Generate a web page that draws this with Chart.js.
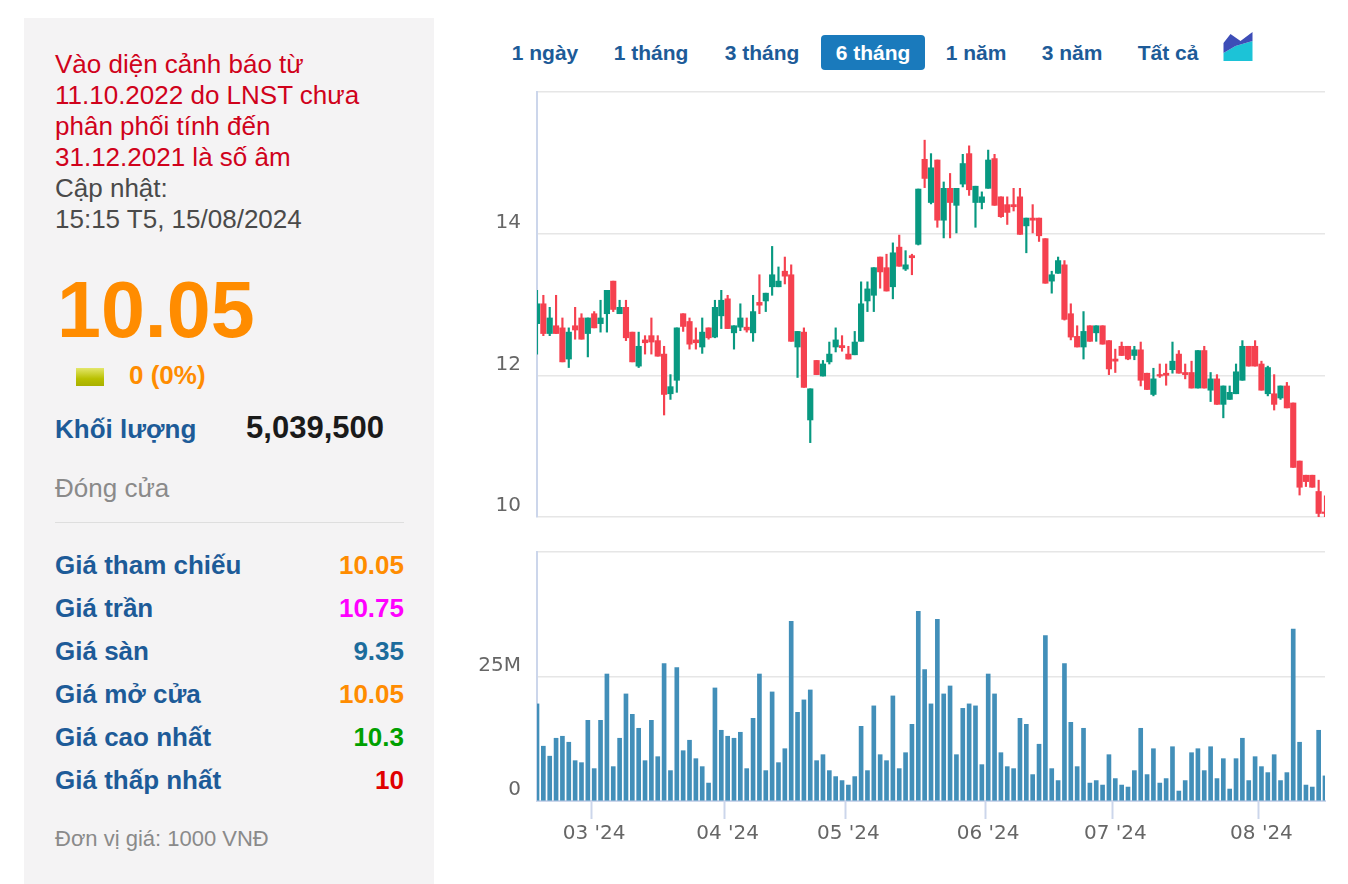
<!DOCTYPE html>
<html lang="vi">
<head>
<meta charset="utf-8">
<script src="https://cdn.jsdelivr.net/npm/chart.js"></script>
<style>
html,body{margin:0;padding:0;background:#fff;width:1348px;height:884px;overflow:hidden;font-family:"Liberation Sans",Arial,Helvetica,sans-serif;}
.a{position:absolute;white-space:nowrap;}
#panel{position:absolute;left:24px;top:18px;width:410px;height:866px;background:#f4f3f4;}
.warn{left:55px;top:49px;font-size:26px;line-height:31px;color:#d0021b;}
.warn .g{color:#4a4a4a;}
.big{left:57px;top:270px;font-size:79px;line-height:79px;font-weight:bold;color:#ff8c00;}
.chg{left:129px;top:362px;font-size:26px;line-height:26px;font-weight:bold;color:#ff8c00;}
.lbl{font-size:26px;line-height:26px;font-weight:bold;color:#1d5b98;left:55px;}
.val{font-size:26px;line-height:26px;font-weight:bold;right:944px;text-align:right;}
.btn{top:35px;height:35px;line-height:35px;font-size:21px;font-weight:bold;color:#1d5b98;transform:translateX(-50%);}
canvas{position:absolute;}
</style>
</head>
<body>
<div id="panel"></div>
<div class="a warn">Vào diện cảnh báo từ<br>11.10.2022 do LNST chưa<br>phân phối tính đến<br>31.12.2021 là số âm<br><span class="g">Cập nhật:</span><br><span class="g">15:15 T5, 15/08/2024</span></div>
<div class="a big">10.05</div>
<div class="a" style="left:76px;top:368px;width:28px;height:18px;background:linear-gradient(#e3e66a,#b9c000 60%,#a9b000);"></div>
<div class="a chg">0 (0%)</div>
<div class="a lbl" style="top:416px;">Khối lượng</div>
<div class="a" style="left:200px;width:184px;text-align:right;top:412px;font-size:31px;line-height:31px;font-weight:bold;color:#1a1a1a;">5,039,500</div>
<div class="a" style="left:55px;top:475px;font-size:26px;line-height:26px;color:#8a8a8a;">Đóng cửa</div>
<div class="a" style="left:55px;top:522px;width:349px;height:1px;background:#dedede;"></div>

<div class="a lbl" style="top:552px;">Giá tham chiếu</div>
<div class="a val" style="top:552px;color:#ff8c00;">10.05</div>
<div class="a lbl" style="top:595px;">Giá trần</div>
<div class="a val" style="top:595px;color:#f0f;">10.75</div>
<div class="a lbl" style="top:638px;">Giá sàn</div>
<div class="a val" style="top:638px;color:#1c6c9c;">9.35</div>
<div class="a lbl" style="top:681px;">Giá mở cửa</div>
<div class="a val" style="top:681px;color:#ff8c00;">10.05</div>
<div class="a lbl" style="top:724px;">Giá cao nhất</div>
<div class="a val" style="top:724px;color:#00a000;">10.3</div>
<div class="a lbl" style="top:767px;">Giá thấp nhất</div>
<div class="a val" style="top:767px;color:#e00000;">10</div>
<div class="a" style="left:55px;top:828px;font-size:22px;line-height:22px;color:#8a8a8a;">Đơn vị giá: 1000 VNĐ</div>

<div class="a btn" style="left:545px;">1 ngày</div>
<div class="a btn" style="left:651px;">1 tháng</div>
<div class="a btn" style="left:762px;">3 tháng</div>
<div class="a" style="left:821px;top:35px;width:104px;height:35px;border-radius:4px;background:#1a7abc;"></div>
<div class="a btn" style="left:873px;color:#fff;">6 tháng</div>
<div class="a btn" style="left:976px;">1 năm</div>
<div class="a btn" style="left:1072px;">3 năm</div>
<div class="a btn" style="left:1168px;">Tất cả</div>
<svg class="a" style="left:1223px;top:32px;" width="30" height="29" viewBox="0 0 29 29">
<polygon points="0,29 0,21 12,14 29,9 29,29" fill="#1cc3d7"/>
<polygon points="0,11 7,2 17,9 29,0 29,9 12,14 0,21" fill="#3d4db7"/>
</svg>

<canvas id="price" width="900" height="450" style="left:440px;top:80px;width:900px;height:450px;"></canvas>
<canvas id="vol" width="900" height="310" style="left:440px;top:540px;width:900px;height:310px;"></canvas>

<script>
const dates = [
"2024-02-19","2024-02-20","2024-02-21","2024-02-22","2024-02-23","2024-02-26","2024-02-27","2024-02-28","2024-02-29",
"2024-03-01","2024-03-04","2024-03-05","2024-03-06","2024-03-07","2024-03-08","2024-03-11","2024-03-12","2024-03-13","2024-03-14","2024-03-15","2024-03-18","2024-03-19","2024-03-20","2024-03-21","2024-03-22","2024-03-25","2024-03-26","2024-03-27","2024-03-28","2024-03-29",
"2024-04-01","2024-04-02","2024-04-03","2024-04-04","2024-04-05","2024-04-08","2024-04-09","2024-04-10","2024-04-11","2024-04-12","2024-04-15","2024-04-16","2024-04-17","2024-04-19","2024-04-22","2024-04-23","2024-04-24","2024-04-25","2024-04-26",
"2024-05-02","2024-05-03","2024-05-06","2024-05-07","2024-05-08","2024-05-09","2024-05-10","2024-05-13","2024-05-14","2024-05-15","2024-05-16","2024-05-17","2024-05-20","2024-05-21","2024-05-22","2024-05-23","2024-05-24","2024-05-27","2024-05-28","2024-05-29","2024-05-30","2024-05-31",
"2024-06-03","2024-06-04","2024-06-05","2024-06-06","2024-06-07","2024-06-10","2024-06-11","2024-06-12","2024-06-13","2024-06-14","2024-06-17","2024-06-18","2024-06-19","2024-06-20","2024-06-21","2024-06-24","2024-06-25","2024-06-26","2024-06-27","2024-06-28",
"2024-07-01","2024-07-02","2024-07-03","2024-07-04","2024-07-05","2024-07-08","2024-07-09","2024-07-10","2024-07-11","2024-07-12","2024-07-15","2024-07-16","2024-07-17","2024-07-18","2024-07-19","2024-07-22","2024-07-23","2024-07-24","2024-07-25","2024-07-26","2024-07-29","2024-07-30","2024-07-31",
"2024-08-01","2024-08-02","2024-08-05","2024-08-06","2024-08-07","2024-08-08","2024-08-09","2024-08-12","2024-08-13","2024-08-14","2024-08-15"
];
const opens = [
12.73,13.01,12.59,12.70,12.67,12.23,12.70,12.81,12.59,12.87,
12.73,12.87,13.33,12.87,12.96,12.61,12.13,12.50,12.56,12.49,
12.30,11.74,11.93,12.87,12.76,12.50,12.40,12.67,12.54,12.84,
13.08,12.60,12.68,12.68,12.60,13.03,13.05,13.25,13.25,13.47,
13.42,12.40,12.61,11.37,12.21,11.99,12.19,12.40,12.42,12.30,
12.29,12.48,13.05,13.13,13.67,13.52,13.25,13.81,13.50,13.69,
13.85,15.05,14.44,15.04,14.19,14.64,14.40,14.70,15.13,14.44,
14.44,14.64,15.06,14.52,14.41,14.41,14.52,14.11,14.22,14.22,
13.93,13.33,13.44,13.56,12.87,12.55,12.40,12.70,12.60,12.70,
12.49,12.23,12.41,12.41,12.28,12.36,12.03,11.73,12.01,12.03,
12.08,12.30,12.04,12.04,11.82,12.35,11.79,11.95,11.59,11.66,
11.74,11.93,12.41,12.41,12.16,11.74,11.74,11.68,11.85,11.61,
10.79,10.59,10.59,10.36,10.05
];
const highs = [
13.20,13.13,12.96,13.13,12.81,12.67,12.96,12.87,12.81,12.90,
13.06,13.20,13.33,13.06,13.06,12.61,12.61,12.56,12.81,12.56,
12.41,12.01,12.67,12.87,12.81,12.67,12.81,12.67,13.06,13.20,
13.13,12.70,13.01,12.81,13.13,13.42,13.16,13.82,13.53,13.67,
13.56,12.62,12.67,11.81,12.21,12.21,12.47,12.67,12.56,12.41,
12.62,13.32,13.32,13.52,13.67,13.71,13.87,13.98,13.76,13.71,
14.63,15.32,15.13,15.04,14.73,14.85,14.64,15.12,15.24,14.67,
14.59,15.18,15.12,14.52,14.52,14.64,14.64,14.22,14.41,14.22,
13.93,13.47,13.67,13.62,13.01,12.70,12.90,12.70,12.70,12.70,
12.49,12.37,12.47,12.41,12.41,12.47,12.03,12.10,12.16,12.16,
12.47,12.35,12.16,12.20,12.35,12.41,12.04,12.01,11.85,11.85,
12.16,12.49,12.41,12.49,12.20,12.13,12.01,11.85,11.90,11.61,
10.79,10.59,10.59,10.52,10.30
];
const lows = [
12.30,12.56,12.56,12.59,12.19,12.11,12.51,12.51,12.26,12.67,
12.61,12.61,12.90,12.87,12.49,12.19,12.11,12.30,12.30,12.27,
11.44,11.66,11.76,12.62,12.37,12.37,12.31,12.51,12.53,12.66,
12.66,12.37,12.63,12.61,12.48,12.87,12.90,13.13,13.25,13.29,
12.48,11.97,11.83,11.05,12.01,11.99,12.16,12.33,12.34,12.23,
12.29,12.48,12.90,12.90,13.23,13.19,13.08,13.54,13.48,13.42,
13.84,14.65,14.42,14.09,13.94,13.94,14.01,14.66,14.54,14.09,
14.35,14.64,14.40,14.23,14.13,14.32,13.99,13.73,14.01,13.89,
13.30,13.16,13.44,12.78,12.50,12.40,12.23,12.48,12.48,12.44,
12.01,12.04,12.28,12.22,12.22,11.85,11.80,11.71,11.97,11.86,
12.03,12.03,11.95,11.82,11.82,11.82,11.63,11.59,11.40,11.66,
11.74,11.93,12.13,12.13,11.79,11.71,11.51,11.66,11.54,10.70,
10.31,10.43,10.42,9.94,10.00
];
const closes = [
13.01,12.59,12.81,12.59,12.19,12.61,12.64,12.51,12.81,12.67,
12.81,13.20,12.93,12.96,12.53,12.19,12.41,12.46,12.47,12.27,
11.73,11.84,12.67,12.69,12.44,12.46,12.61,12.53,12.96,13.06,
12.66,12.70,12.81,12.64,12.90,12.99,13.16,13.42,13.33,13.40,
12.48,12.62,11.83,11.81,12.01,12.16,12.30,12.50,12.39,12.23,
12.47,13.01,13.22,13.52,13.46,13.19,13.73,13.54,13.56,13.66,
14.63,14.78,14.93,14.19,14.64,14.44,14.64,14.99,14.62,14.67,
14.52,15.04,14.40,14.24,14.30,14.38,13.99,14.22,14.19,13.97,
13.30,13.42,13.62,12.79,12.54,12.40,12.62,12.48,12.70,12.44,
12.09,12.20,12.28,12.23,12.36,11.93,11.80,11.95,11.99,12.00,
12.20,12.03,12.01,11.82,12.35,11.82,11.95,11.59,11.85,11.76,
12.05,12.41,12.13,12.13,11.79,12.11,11.59,11.85,11.54,10.70,
10.42,10.50,10.42,10.05,10.05
];
const volumesM = [
19.5,11.0,9.0,12.6,13.0,11.8,8.1,7.7,16.2,6.5,
16.2,25.5,6.9,12.6,21.5,17.4,14.6,8.1,16.2,8.9,
27.6,6.1,26.8,10.1,12.2,8.5,6.9,3.6,22.7,14.2,
13.0,12.6,13.8,6.5,16.6,25.5,6.1,21.9,7.7,10.5,
36.1,17.8,20.3,22.3,8.1,9.3,6.1,4.9,4.1,3.2,
4.9,15.0,6.1,19.1,9.3,8.1,21.1,6.5,9.7,15.4,
38.1,26.4,19.5,36.5,21.5,23.1,9.3,18.6,19.5,19.1,
7.3,25.5,21.5,9.7,6.9,6.5,16.6,15.4,5.3,11.4,
33.2,6.5,4.1,27.6,15.8,6.9,14.6,3.6,4.1,3.2,
9.3,4.5,3.2,2.8,6.1,14.6,5.3,10.5,3.6,4.5,
10.9,2.0,4.1,9.7,10.5,6.1,10.9,4.5,8.5,2.4,
8.5,12.6,4.1,8.9,6.9,5.7,9.3,4.1,5.7,34.5,
11.8,3.2,2.8,14.2,5.04
];
const priceTickLabels = {10:"10", 12:"12", 14:"14"};
const volumeTickLabels = {0:"0", 25:"25M"};

const UP = '#089981', DOWN = '#f5414f';
const candleColors = closes.map((c, i) => c > opens[i] ? UP : DOWN);
const monthLabels = dates.map((d, i) => {
  if (i === 0) return '';
  const m = d.slice(5, 7);
  return dates[i - 1].slice(5, 7) !== m ? m + " '" + d.slice(2, 4) : '';
});
const tickFont = {family: 'DejaVu Sans', size: 20};
const AXIS_W = 97;

new Chart(document.getElementById('price'), {
  type: 'bar',
  data: {
    labels: dates,
    datasets: [
      {data: opens.map((o, i) => [o, closes[i]]), backgroundColor: candleColors, barThickness: 5.5, minBarLength: 1.5, grouped: false},
      {data: lows.map((l, i) => [l, highs[i]]), backgroundColor: candleColors, barThickness: 1.5, grouped: false}
    ]
  },
  options: {
    responsive: false, animation: false, events: [],
    layout: {padding: {top: 12, bottom: 13, right: 15, left: 0}},
    plugins: {legend: {display: false}, tooltip: {enabled: false}},
    scales: {
      x: {display: false, offset: false, grid: {display: false}},
      y: {
        min: 10, max: 16,
        afterFit(s) { s.width = AXIS_W; s.paddingTop = 0; s.paddingBottom = 0; },
        ticks: {stepSize: 2, padding: 16, labelOffset: -11, color: '#666', font: tickFont,
                callback: v => priceTickLabels[v] || ''},
        grid: {color: '#e6e6e6', lineWidth: 1.5, drawTicks: false},
        border: {color: '#ccd6eb', width: 2}
      }
    }
  }
});

new Chart(document.getElementById('vol'), {
  type: 'bar',
  data: {
    labels: dates,
    datasets: [{data: volumesM, backgroundColor: '#428fb9', barThickness: 4}]
  },
  options: {
    responsive: false, animation: false, events: [],
    layout: {padding: {top: 12, bottom: 0, right: 15, left: 0}},
    plugins: {legend: {display: false}, tooltip: {enabled: false}},
    scales: {
      x: {
        offset: false,
        afterFit(s) { s.height = 49; s.paddingLeft = 0; s.paddingRight = 0; },
        grid: {drawOnChartArea: false, drawTicks: true, tickLength: 18, tickWidth: 2,
               tickColor: c => monthLabels[c.index] ? '#ccd6eb' : 'rgba(0,0,0,0)',
               color: 'rgba(0,0,0,0)'},
        border: {color: '#ccd6eb', width: 2},
        ticks: {autoSkip: false, maxRotation: 0, minRotation: 0, padding: 3, color: '#666', font: tickFont,
                callback: (v, i) => monthLabels[i]}
      },
      y: {
        min: 0, max: 50,
        afterFit(s) { s.width = AXIS_W; s.paddingTop = 0; s.paddingBottom = 0; },
        ticks: {stepSize: 25, padding: 16, labelOffset: -11, color: '#666', font: tickFont,
                callback: v => volumeTickLabels[v] || ''},
        grid: {color: '#e6e6e6', lineWidth: 1.5, drawTicks: false},
        border: {color: '#ccd6eb', width: 2}
      }
    }
  }
});
</script>
</body>
</html>
